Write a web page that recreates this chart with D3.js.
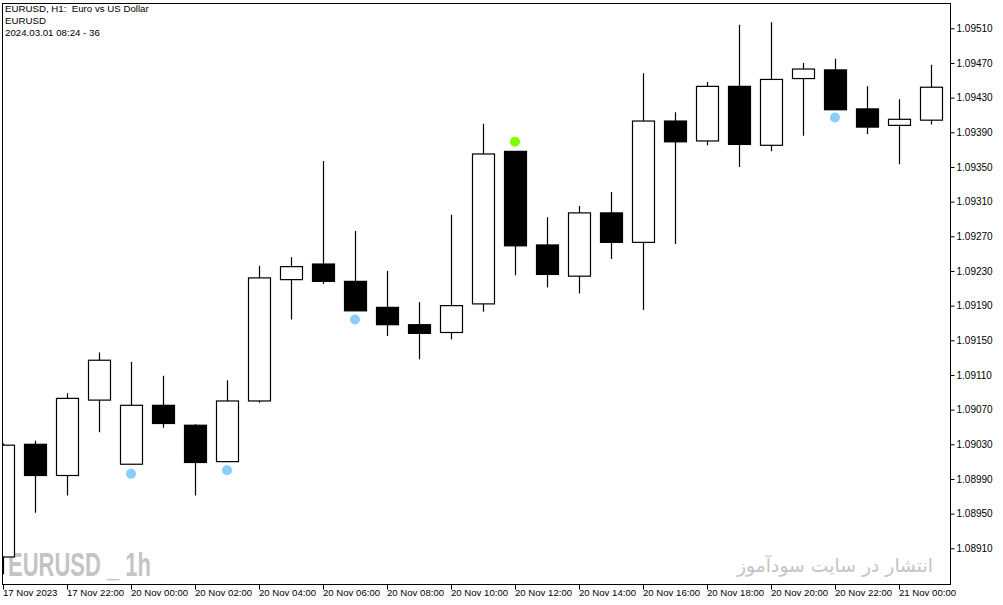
<!DOCTYPE html>
<html><head><meta charset="utf-8">
<script src="https://cdn.jsdelivr.net/npm/d3@7/dist/d3.min.js"></script>
<style>
html,body{margin:0;padding:0;background:#fff;}
svg{display:block;}
</style></head>
<body>
<svg id="c" width="1003" height="605"></svg>
<script>
const times = ["17 Nov 20:00","17 Nov 21:00","17 Nov 22:00","17 Nov 23:00","20 Nov 00:00","20 Nov 01:00","20 Nov 02:00","20 Nov 03:00","20 Nov 04:00","20 Nov 05:00","20 Nov 06:00","20 Nov 07:00","20 Nov 08:00","20 Nov 09:00","20 Nov 10:00","20 Nov 11:00","20 Nov 12:00","20 Nov 13:00","20 Nov 14:00","20 Nov 15:00","20 Nov 16:00","20 Nov 17:00","20 Nov 18:00","20 Nov 19:00","20 Nov 20:00","20 Nov 21:00","20 Nov 22:00","20 Nov 23:00","21 Nov 00:00","21 Nov 01:00"];
const opens  = [1.08900,1.09030,1.08994,1.09081,1.09007,1.09075,1.09052,1.09010,1.09080,1.09220,1.09238,1.09218,1.09188,1.09168,1.09159,1.09192,1.09368,1.09260,1.09224,1.09297,1.09263,1.09403,1.09380,1.09443,1.09375,1.09452,1.09462,1.09417,1.09398,1.09404];
const highs  = [1.09031,1.09034,1.09089,1.09136,1.09125,1.09109,1.09053,1.09104,1.09236,1.09246,1.09357,1.09276,1.09230,1.09194,1.09295,1.09400,1.09368,1.09292,1.09305,1.09321,1.09458,1.09413,1.09448,1.09514,1.09517,1.09470,1.09475,1.09443,1.09428,1.09468];
const lows   = [1.08880,1.08951,1.08971,1.09044,1.09007,1.09049,1.08971,1.09010,1.09078,1.09174,1.09215,1.09184,1.09155,1.09128,1.09151,1.09183,1.09225,1.09211,1.09204,1.09244,1.09185,1.09261,1.09375,1.09350,1.09368,1.09386,1.09416,1.09388,1.09353,1.09399];
const closes = [1.09029,1.08994,1.09083,1.09127,1.09075,1.09054,1.09009,1.09080,1.09222,1.09235,1.09218,1.09184,1.09168,1.09158,1.09190,1.09365,1.09259,1.09226,1.09297,1.09263,1.09403,1.09379,1.09443,1.09376,1.09451,1.09463,1.09416,1.09396,1.09405,1.09442];
const signalIdx    = [4, 7, 11, 16, 26];
const signalPrice  = [1.08996, 1.09000, 1.09174, 1.09379, 1.09407];
const signalType   = ["buy","buy","buy","sell","buy"];
const priceTicks = [1.09510,1.09470,1.09430,1.09390,1.09350,1.09310,1.09270,1.09230,1.09190,1.09150,1.09110,1.09070,1.09030,1.08990,1.08950,1.08910];
const timeTickIdx = [0,2,4,6,8,10,12,14,16,18,20,22,24,26,28];
const timeTickLabels = ["17 Nov 2023","17 Nov 22:00","20 Nov 00:00","20 Nov 02:00","20 Nov 04:00","20 Nov 06:00","20 Nov 08:00","20 Nov 10:00","20 Nov 12:00","20 Nov 14:00","20 Nov 16:00","20 Nov 18:00","20 Nov 20:00","20 Nov 22:00","21 Nov 00:00"];

const svg = d3.select("#c");
const L = 2.5, T = 3.5, R = 950.5, B = 584.5;
const x = d3.scalePoint().domain(times).range([2.5, 930.5]);
const y = d3.scaleLinear().domain([1.08910, 1.09510]).range([548.3, 28.3]);

svg.append("defs").append("clipPath").attr("id","pc")
  .append("rect").attr("x",L).attr("y",T).attr("width",R-L).attr("height",B-T);

// watermarks
svg.append("text").attr("x",8).attr("y",576).attr("font-family","Liberation Sans, Arial, sans-serif")
  .attr("font-weight","bold").attr("font-size",33).attr("fill","#c4c4c4")
  .attr("textLength",143).attr("lengthAdjust","spacingAndGlyphs").text("EURUSD _ 1h");
svg.append("text").attr("x",835).attr("y",572).attr("text-anchor","middle").attr("font-family","DejaVu Sans, sans-serif")
  .attr("font-size",18.8).attr("fill","#c4c4c4")
  .text("انتشار در سایت سودآموز");

const g = svg.append("g").attr("clip-path","url(#pc)");
const data = times.map((t,i)=>({t,o:opens[i],h:highs[i],l:lows[i],c:closes[i]}));
const bw = 22;
const cg = g.selectAll("g.cd").data(data).join("g").attr("class","cd");
cg.append("line").attr("x1",d=>Math.round(x(d.t))+0.5).attr("x2",d=>Math.round(x(d.t))+0.5)
  .attr("y1",d=>y(d.h)).attr("y2",d=>y(d.l)).attr("stroke","#000").attr("stroke-width",1.2);
cg.append("rect").attr("x",d=>Math.round(x(d.t))-bw/2+0.5).attr("width",bw)
  .attr("y",d=>y(Math.max(d.o,d.c))).attr("height",d=>Math.max(1,Math.abs(y(d.o)-y(d.c))))
  .attr("fill",d=>d.c>=d.o?"#fff":"#000").attr("stroke","#000").attr("stroke-width",1.2);

// signals
g.selectAll("circle.sig").data(signalIdx.map((k,j)=>({k,p:signalPrice[j],s:signalType[j]}))).join("circle")
  .attr("class","sig").attr("cx",d=>x(times[d.k])+0.5).attr("cy",d=>y(d.p)).attr("r",5)
  .attr("fill",d=>d.s==="buy"?"#87cefa":"#7fff00");

// frame
svg.append("rect").attr("x",L).attr("y",T).attr("width",R-L).attr("height",B-T)
  .attr("fill","none").attr("stroke","#000").attr("stroke-width",1);

// right axis
const ya = d3.axisRight(y).tickValues(priceTicks).tickFormat(d3.format(".5f")).tickSize(4).tickPadding(2);
const yg = svg.append("g").attr("transform",`translate(${R},0)`).call(ya);
yg.select(".domain").remove();
yg.selectAll("text").attr("font-family","Liberation Sans, Arial, sans-serif").attr("font-size",10).attr("fill","#000");

// bottom axis
const xa = d3.axisBottom(x).tickValues(timeTickIdx.map(i=>times[i]))
  .tickFormat((d,i)=>timeTickLabels[i]).tickSize(5);
const xg = svg.append("g").attr("transform",`translate(0,${B})`).call(xa);
xg.select(".domain").remove();
xg.selectAll(".tick line").attr("transform","translate(0.5,0)");
xg.selectAll("text").attr("font-family","Liberation Sans, Arial, sans-serif").attr("font-size",9.6)
  .attr("fill","#000").attr("text-anchor","start").attr("dx",0).attr("y",5).attr("dy","0.71em");

// header
const hdr = ["EURUSD, H1:  Euro vs US Dollar","EURUSD","2024.03.01 08:24 - 36"];
svg.selectAll("text.hdr").data(hdr).join("text").attr("class","hdr")
  .attr("x",5).attr("y",(d,i)=>12+i*12).attr("font-family","Liberation Sans, Arial, sans-serif")
  .attr("font-size",9.7).attr("fill","#000").attr("xml:space","preserve").style("white-space","pre").text(d=>d);
</script>
</body></html>
